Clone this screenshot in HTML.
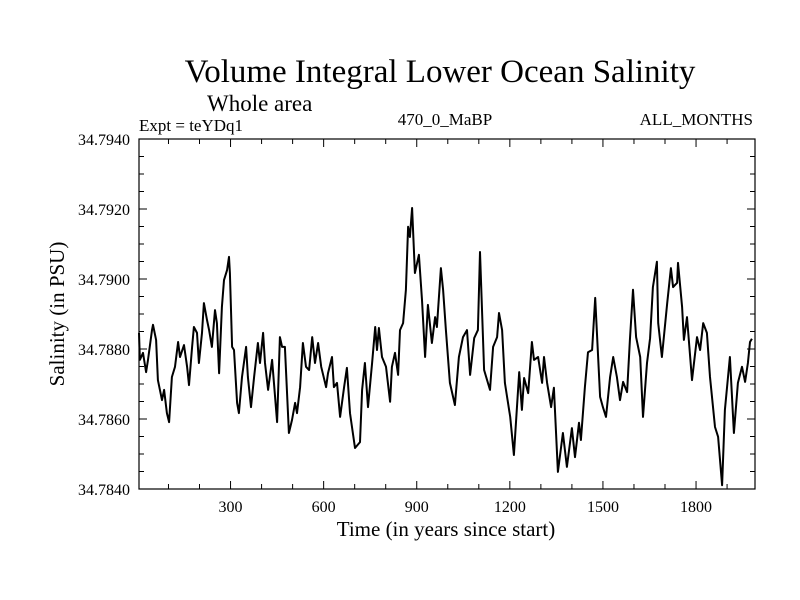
<!DOCTYPE html>
<html><head><meta charset="utf-8"><style>
body{margin:0;background:#fff;}
svg{display:block;font-family:"Liberation Serif",serif;}
</style></head><body>
<svg id="chart" width="800" height="600" viewBox="0 0 800 600">
<rect width="800" height="600" fill="#fff"/>
<text x="440" y="82" font-size="33" text-anchor="middle">Volume Integral Lower Ocean Salinity</text>
<text x="207" y="111" font-size="23">Whole area</text>
<text x="139" y="131" font-size="17">Expt = teYDq1</text>
<text x="445" y="125" font-size="17" text-anchor="middle">470_0_MaBP</text>
<text x="753" y="125" font-size="17" text-anchor="end">ALL_MONTHS</text>
<text x="446" y="536" font-size="21" text-anchor="middle">Time (in years since start)</text>
<text x="0" y="0" font-size="21" text-anchor="middle" transform="translate(64,314) rotate(-90)">Salinity (in PSU)</text>
<g id="axes"></g>
<g id="series"></g>
</svg>
<script>
const years=[5,8,18,28,34,47,50,60,66,79,86,95,102,111,121,131,137,150,160,166,176,182,192,198,208,214,224,231,240,250,256,263,272,279,289,295,298,305,311,321,327,337,350,356,366,376,388,395,405,411,421,434,450,459,466,475,488,498,508,514,524,533,543,553,563,572,582,592,608,614,627,633,643,653,666,675,685,701,717,724,733,743,756,766,772,778,788,801,814,820,830,840,846,856,865,872,878,885,894,907,917,927,936,949,959,965,978,985,994,1007,1023,1036,1049,1062,1072,1085,1097,1104,1117,1136,1146,1159,1165,1175,1184,1201,1213,1230,1239,1246,1259,1271,1278,1291,1304,1310,1320,1333,1342,1355,1371,1384,1400,1410,1423,1429,1442,1452,1465,1475,1491,1500,1510,1523,1533,1545,1555,1565,1578,1587,1597,1607,1620,1629,1642,1652,1661,1674,1678,1690,1707,1719,1726,1739,1742,1755,1761,1771,1787,1803,1813,1823,1835,1845,1861,1871,1884,1893,1909,1922,1935,1948,1958,1967,1974,1980];
const salinity=[34.78846,34.78769,34.78789,34.78734,34.78769,34.78854,34.78869,34.78826,34.78711,34.78654,34.78683,34.78617,34.78591,34.78720,34.78749,34.78820,34.78777,34.78811,34.78749,34.78697,34.78806,34.78863,34.78846,34.78760,34.78846,34.78931,34.78883,34.78854,34.78806,34.78911,34.78874,34.78731,34.78920,34.78997,34.79026,34.79063,34.79017,34.78806,34.78797,34.78646,34.78617,34.78720,34.78806,34.78720,34.78634,34.78720,34.78817,34.78760,34.78846,34.78760,34.78683,34.78769,34.78591,34.78834,34.78806,34.78806,34.78560,34.78597,34.78646,34.78617,34.78691,34.78817,34.78749,34.78740,34.78834,34.78760,34.78817,34.78749,34.78691,34.78731,34.78777,34.78691,34.78703,34.78606,34.78691,34.78746,34.78617,34.78517,34.78534,34.78683,34.78760,34.78634,34.78760,34.78863,34.78797,34.78860,34.78777,34.78749,34.78649,34.78749,34.78789,34.78726,34.78854,34.78874,34.78969,34.79149,34.79120,34.79203,34.79017,34.79069,34.78940,34.78777,34.78926,34.78817,34.78891,34.78863,34.79031,34.78969,34.78854,34.78703,34.78640,34.78777,34.78834,34.78854,34.78726,34.78831,34.78854,34.79077,34.78740,34.78683,34.78806,34.78834,34.78903,34.78854,34.78703,34.78606,34.78497,34.78734,34.78626,34.78717,34.78674,34.78820,34.78769,34.78777,34.78703,34.78777,34.78703,34.78634,34.78689,34.78449,34.78560,34.78463,34.78574,34.78491,34.78589,34.78540,34.78691,34.78791,34.78797,34.78946,34.78663,34.78634,34.78606,34.78720,34.78777,34.78720,34.78654,34.78706,34.78677,34.78826,34.78969,34.78834,34.78777,34.78606,34.78760,34.78831,34.78977,34.79049,34.78874,34.78777,34.78931,34.79031,34.78977,34.78989,34.79046,34.78920,34.78826,34.78891,34.78711,34.78834,34.78797,34.78874,34.78846,34.78720,34.78577,34.78549,34.78411,34.78626,34.78777,34.78560,34.78703,34.78749,34.78706,34.78760,34.78820,34.78829];
const xTickLabels=[300,600,900,1200,1500,1800];
const yTickLabels=["34.7840","34.7860","34.7880","34.7900","34.7920","34.7940"];

const L=139,R=755,T=139,B=489,X0=5,X1=1990,Y0=34.784,Y1=34.794;
const sx=v=>L+(v-X0)/(X1-X0)*(R-L);
const sy=v=>B-(v-Y0)/(Y1-Y0)*(B-T);
const NS="http://www.w3.org/2000/svg";
const axes=document.getElementById('axes');
function mk(tag,attrs,parent){const e=document.createElementNS(NS,tag);for(const k in attrs)e.setAttribute(k,attrs[k]);parent.appendChild(e);return e;}
const frame=mk('rect',{x:L,y:T,width:R-L,height:B-T,fill:'none',stroke:'#000','stroke-width':1.2},axes);


for(let yr=100;yr<X1;yr+=100){
  const x=sx(yr),len=(yr%300===0)?8:5;
  const t1=mk('line',{x1:x,x2:x,y1:B,y2:B-len,stroke:'#000','stroke-width':1},axes);
  
  
  const t2=mk('line',{x1:x,x2:x,y1:T,y2:T+len,stroke:'#000','stroke-width':1},axes);
  
  
}
xTickLabels.forEach(v=>{
  const t=mk('text',{x:sx(v),y:B+23,'font-size':16,'text-anchor':'middle'},axes);
  t.textContent=v;
  
  
});
for(let i=0;i<=20;i++){
  const v=Y0+i*0.0005,y=sy(v),len=(i%4===0)?8:5;
  const a=mk('line',{x1:L,x2:L+len,y1:y,y2:y,stroke:'#000','stroke-width':1},axes);
  
  
  const b=mk('line',{x1:R,x2:R-len,y1:y,y2:y,stroke:'#000','stroke-width':1},axes);
  
  
}
yTickLabels.forEach(s=>{
  const t=mk('text',{x:L-9,y:sy(parseFloat(s))+6,'font-size':16,'text-anchor':'end'},axes);
  t.textContent=s;
  
  
});
const pts=years.map((yr,i)=>sx(yr).toFixed(1)+','+sy(salinity[i]).toFixed(1)).join(' ');
const line=mk('polyline',{points:pts,fill:'none',stroke:'#000','stroke-width':2,'stroke-linejoin':'round'},document.getElementById('series'));


</script>
</body></html>
